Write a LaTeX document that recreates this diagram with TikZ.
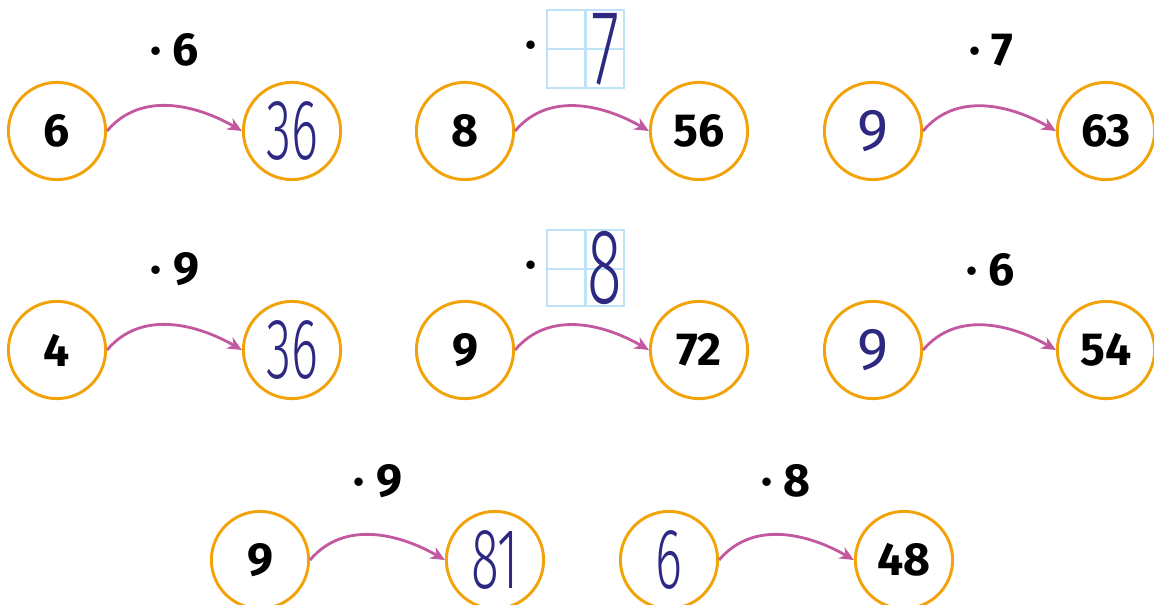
\documentclass[tikz,border=0pt]{standalone}
\usepackage{fontspec}
\setmainfont{Fira Sans}
\newfontfamily\handfont{Fira Sans Light}
\usetikzlibrary{arrows.meta}
\definecolor{myorange}{RGB}{242,163,10}
\definecolor{mypink}{RGB}{194,88,160}
\definecolor{myblue}{RGB}{45,40,130}
\definecolor{mygrid}{RGB}{190,226,247}
\newcommand{\hand}[2][61]{{\handfont\mdseries\color{myblue}\scalebox{0.6}[1]{\fontsize{#1}{#1}\selectfont #2}}}
\newcommand{\bluenum}[1]{{\mdseries\color{myblue}\fontsize{42}{42}\selectfont#1}}
\tikzset{
  num/.style={circle,draw=myorange,line width=2.1pt,minimum size=2.43cm,inner sep=0pt,
    font=\fontsize{33}{36}\selectfont\bfseries},
  fac/.style={inner sep=0pt,font=\fontsize{33}{36}\selectfont\bfseries},
  arr/.style={mypink,line width=2pt,-{Stealth[length=0.36cm,width=0.32cm]}},
  cell/.style={mygrid,line width=1.5pt},
}

\begin{document}
\begin{tikzpicture}[x=0.025cm,y=0.025cm]
  \useasboundingbox (0,0) rectangle (1154,-604);
  % first row
  \node[num] (a1) at (57,-131) {6};
  \node[num] (b1) at (292,-131) {\hand{36}};
  \node[fac] (f1) at (175,-50) {·~6};
  \draw[arr] (a1.east) to[out=50,in=150] (b1.west);

  \node[num] (a2) at (465,-131) {8};
  \node[num] (b2) at (699,-131) {56};
  \node[fac] (f2) at (531,-50) {·};
  \draw[cell] (547,-10) rectangle (624,-88);
  \draw[cell] (585.5,-10) -- (585.5,-88) (547,-49) -- (624,-49);
  \node[inner sep=0pt] (g2) at (605,-49) {\hand[76]{7}};
  \draw[arr] (a2.east) to[out=50,in=150] (b2.west);

  \node[num] (a3) at (873,-131) {\bluenum{9}};
  \node[num] (b3) at (1106,-131) {63};
  \node[fac] (f3) at (991,-50) {·~7};
  \draw[arr] (a3.east) to[out=50,in=150] (b3.west);

  % second row
  \node[num] (a4) at (57,-350) {4};
  \node[num] (b4) at (292,-350) {\hand{36}};
  \node[fac] (f4) at (175,-269) {·~9};
  \draw[arr] (a4.east) to[out=50,in=150] (b4.west);

  \node[num] (a5) at (465,-350) {9};
  \node[num] (b5) at (699,-350) {72};
  \node[fac] (f5) at (531,-270) {·};
  \draw[cell] (547,-230) rectangle (624,-306);
  \draw[cell] (585.5,-230) -- (585.5,-306) (547,-269) -- (624,-269);
  \node[inner sep=0pt] (g5) at (605,-268) {\hand[76]{8}};
  \draw[arr] (a5.east) to[out=50,in=150] (b5.west);

  \node[num] (a6) at (873,-350) {\bluenum{9}};
  \node[num] (b6) at (1106,-350) {54};
  \node[fac] (f6) at (991,-270) {·~6};
  \draw[arr] (a6.east) to[out=50,in=150] (b6.west);

  % third row
  \node[num] (a7) at (260,-560) {9};
  \node[num] (b7) at (495,-560) {\hand{81}};
  \node[fac] (f7) at (378,-481) {·~9};
  \draw[arr] (a7.east) to[out=50,in=150] (b7.west);

  \node[num] (a8) at (669,-560) {\hand{6}};
  \node[num] (b8) at (904,-560) {48};
  \node[fac] (f8) at (786,-481) {·~8};
  \draw[arr] (a8.east) to[out=50,in=150] (b8.west);
\end{tikzpicture}
\end{document}
